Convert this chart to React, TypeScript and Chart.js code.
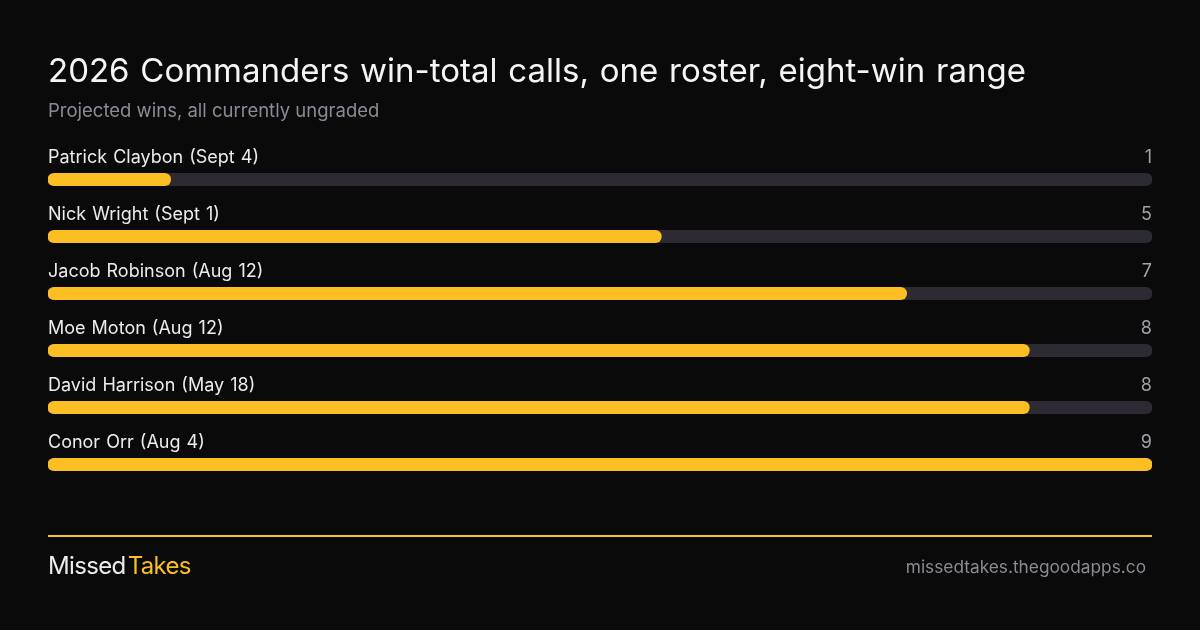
import React, { useEffect, useRef } from "react";
import { Chart, registerables } from "chart.js";

Chart.register(...registerables);

const TITLE = "2026 Commanders win-total calls, one roster, eight-win range";
const SUBTITLE = "Projected wins, all currently ungraded";
const CATEGORIES = [
  "Patrick Claybon (Sept 4)",
  "Nick Wright (Sept 1)",
  "Jacob Robinson (Aug 12)",
  "Moe Moton (Aug 12)",
  "David Harrison (May 18)",
  "Conor Orr (Aug 4)",
];
const WINS = [1, 5, 7, 8, 8, 9];
const SCALE_MAX = 9;
const TRACK = CATEGORIES.map(() => SCALE_MAX);
const BRAND_A = "Missed";
const BRAND_B = "Takes";
const URL_TEXT = "missedtakes.thegoodapps.co";

const BG = "#0a0a0a";
const YELLOW = "#fbbf24";
const TRACK_COLOR = "#2d2a33";
const FONT = "Inter, 'Noto Sans', sans-serif";

const rowLabels = {
  id: "rowLabels",
  afterDatasetsDraw(chart: any) {
    const ctx = chart.ctx;
    const meta = chart.getDatasetMeta(0);
    const area = chart.chartArea;
    ctx.save();
    ctx.font = `400 18px ${FONT}`;
    ctx.textBaseline = "alphabetic";
    try {
      (ctx as any).wordSpacing = "1px";
    } catch (e) {}
    meta.data.forEach((bar: any, i: number) => {
      const y = bar.y - 16.5;
      ctx.fillStyle = "#ececec";
      ctx.textAlign = "left";
      ctx.fillText(CATEGORIES[i], area.left, y);
      ctx.fillStyle = "#a1a1aa";
      ctx.textAlign = "right";
      ctx.fillText(String(WINS[i]), area.right, y);
    });
    ctx.restore();
  },
};

export default function App() {
  const ref = useRef<HTMLCanvasElement | null>(null);

  useEffect(() => {
    document.body.style.margin = "0";
    document.body.style.background = BG;
    if (!ref.current) return;
    const chart = new Chart(ref.current, {
      type: "bar",
      data: {
        labels: CATEGORIES,
        datasets: [
          {
            data: WINS,
            backgroundColor: YELLOW,
            borderRadius: 7,
            borderSkipped: false,
            barThickness: 12.5,
            grouped: false,
            order: 0,
          },
          {
            data: TRACK,
            backgroundColor: TRACK_COLOR,
            borderRadius: 7,
            borderSkipped: false,
            barThickness: 12.5,
            grouped: false,
            order: 1,
          },
        ],
      },
      options: {
        indexAxis: "y",
        responsive: false,
        animation: false,
        devicePixelRatio: 1,
        layout: { padding: { left: 48, right: 48, top: 151, bottom: 137 } },
        scales: {
          x: { display: false, min: 0, max: SCALE_MAX },
          y: { display: false },
        },
        plugins: {
          legend: { display: false },
          tooltip: { enabled: false },
          title: { display: false },
        },
      },
      plugins: [rowLabels],
    });
    document.fonts?.load(`18px Inter`).then(() => chart.update());
    return () => chart.destroy();
  }, []);

  return (
    <div
      style={{
        position: "relative",
        width: 1200,
        height: 630,
        background: BG,
        fontFamily: FONT,
        overflow: "hidden",
      }}
    >
      <canvas
        ref={ref}
        width={1200}
        height={630}
        style={{ position: "absolute", left: 0, top: 0, width: 1200, height: 630 }}
      />
      <div
        style={{
          position: "absolute",
          left: 48,
          top: 53.5,
          fontSize: 33,
          lineHeight: "33px",
          wordSpacing: 1.5,
          color: "#f5f5f5",
          whiteSpace: "nowrap",
        }}
      >
        {TITLE}
      </div>
      <div
        style={{
          position: "absolute",
          left: 48,
          top: 101.3,
          fontSize: 18.5,
          lineHeight: "18.5px",
          color: "#8b8b95",
          whiteSpace: "nowrap",
        }}
      >
        {SUBTITLE}
      </div>
      <div
        style={{
          position: "absolute",
          left: 48,
          top: 535,
          width: 1104,
          height: 2,
          background: YELLOW,
        }}
      />
      <div
        style={{
          position: "absolute",
          left: 48,
          top: 554.3,
          fontSize: 24,
          lineHeight: "24px",
          letterSpacing: -0.65,
          whiteSpace: "nowrap",
        }}
      >
        <span style={{ color: "#ececec" }}>{BRAND_A}</span>
        <span style={{ color: YELLOW, marginLeft: 2 }}>{BRAND_B}</span>
      </div>
      <div
        style={{
          position: "absolute",
          right: 54,
          top: 558,
          fontSize: 17.3,
          lineHeight: "17.3px",
          color: "#8b8b95",
          whiteSpace: "nowrap",
        }}
      >
        {URL_TEXT}
      </div>
    </div>
  );
}
